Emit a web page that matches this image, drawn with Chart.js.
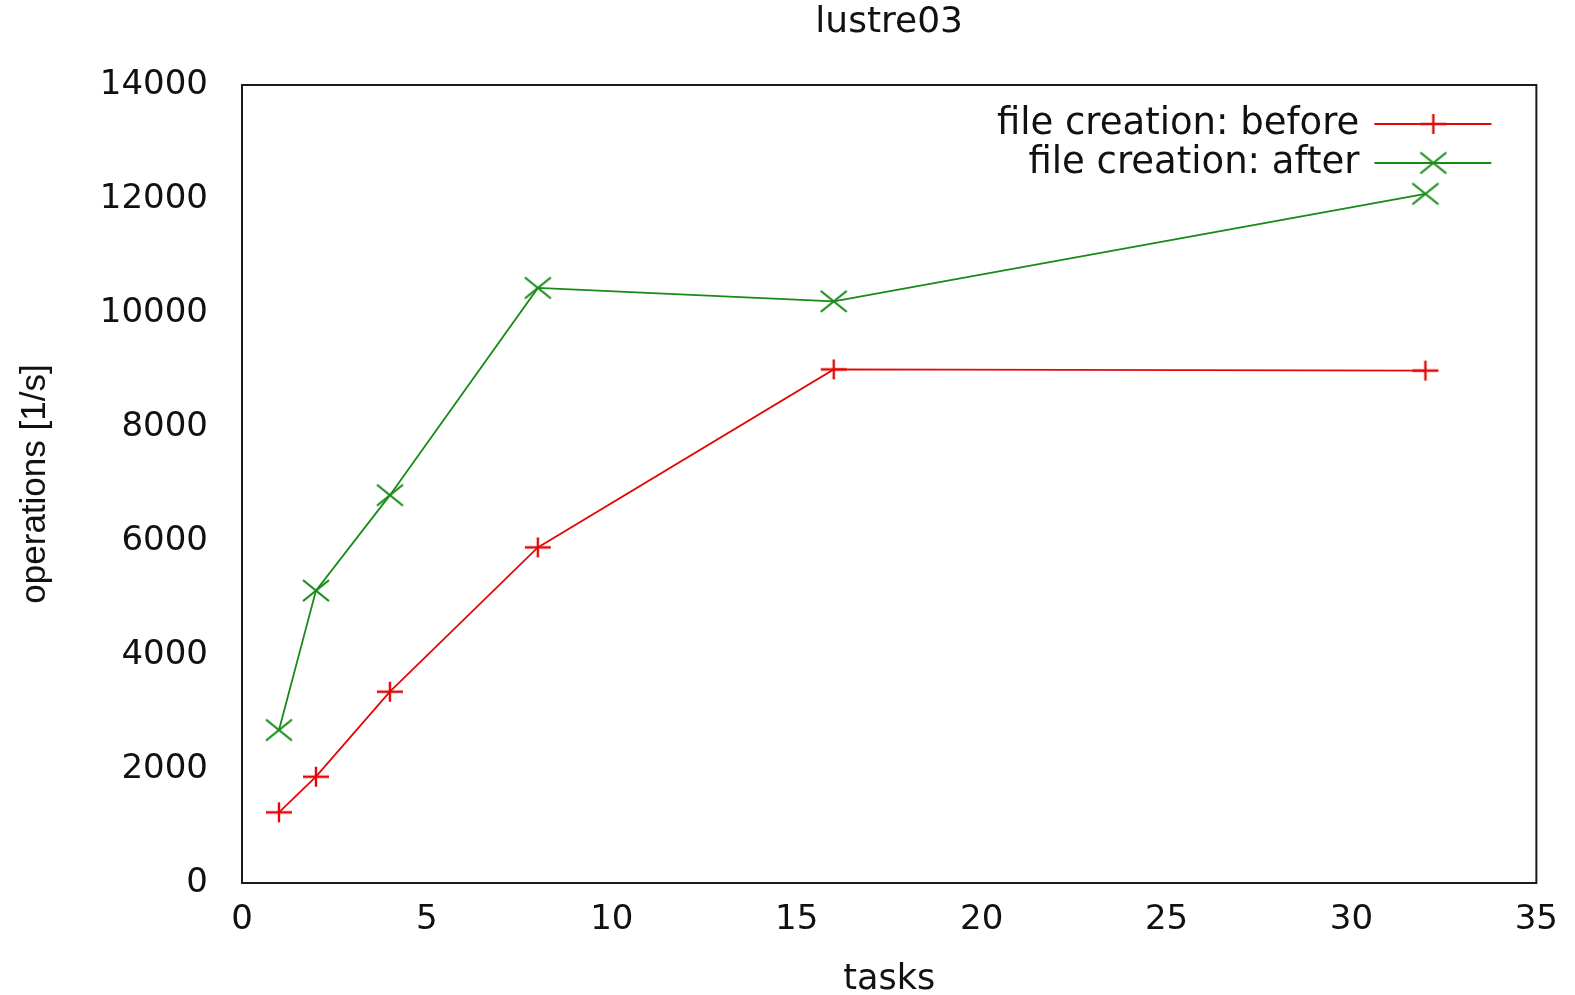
<!DOCTYPE html>
<html>
<head>
<meta charset="utf-8">
<script src="https://cdn.jsdelivr.net/npm/chart.js@4.4.1/dist/chart.umd.min.js"></script>
<style>
html,body{margin:0;padding:0;background:#ffffff;}
canvas{display:block;}
</style>
</head>
<body>
<canvas id="c" width="1575" height="995"></canvas>
<script>
// ---- data ----
const tasks = [1, 2, 4, 8, 16, 32];
const beforeOps = [1240, 1865, 3356, 5888, 9010, 8990];
const afterOps = [2684, 5130, 6804, 10440, 10205, 12090];
const seriesLabels = ['file creation: before', 'file creation: after'];
const chartTitle = 'lustre03';
const xTitle = 'tasks';
const yTitle = 'operations [1/s]';
const xTicks = [0, 5, 10, 15, 20, 25, 30, 35];
const yTicks = [0, 2000, 4000, 6000, 8000, 10000, 12000, 14000];

// ---- styling ----
const RED = '#e20808';
const GREEN = '#178a17';
const TEXT = '#111111';
const FONT = 'DejaVu Sans';

function makeMarker(kind, color, w, h, lw) {
  const c = document.createElement('canvas');
  c.width = w + 4; c.height = h + 4;
  const g = c.getContext('2d');
  g.strokeStyle = color; g.lineWidth = lw; g.lineCap = 'butt';
  const cx = c.width / 2, cy = c.height / 2;
  g.beginPath();
  if (kind === 'plus') {
    g.moveTo(cx - w / 2, cy); g.lineTo(cx + w / 2, cy);
    g.moveTo(cx, cy - h / 2); g.lineTo(cx, cy + h / 2);
  } else {
    g.moveTo(cx - w / 2, cy - h / 2); g.lineTo(cx + w / 2, cy + h / 2);
    g.moveTo(cx - w / 2, cy + h / 2); g.lineTo(cx + w / 2, cy - h / 2);
  }
  g.stroke();
  return c;
}
const plusMarker = makeMarker('plus', RED, 26, 20, 2.4);
const crossMarker = makeMarker('x', GREEN, 26, 21, 2.2);

const framePlugin = {
  id: 'frame',
  beforeDatasetsDraw(chart) {
    const {ctx, chartArea: a} = chart;
    ctx.save();
    ctx.strokeStyle = '#1a1a1a';
    ctx.lineWidth = 2;
    ctx.strokeRect(a.left, a.top, a.right - a.left, a.bottom - a.top);
    ctx.restore();
  }
};

const keyPlugin = {
  id: 'gpKey',
  afterDatasetsDraw(chart) {
    const {ctx, chartArea: a} = chart;
    chart.data.datasets.forEach((ds, i) => {
      const y = a.top + 39 + i * 39;
      ctx.save();
      ctx.font = '37px "' + FONT + '"';
      ctx.fillStyle = TEXT;
      ctx.textAlign = 'right';
      ctx.textBaseline = 'middle';
      ctx.fillText(ds.label, a.right - 177, y);
      ctx.strokeStyle = ds.borderColor;
      ctx.lineWidth = ds.borderWidth;
      ctx.beginPath();
      ctx.moveTo(a.right - 162, y);
      ctx.lineTo(a.right - 45, y);
      ctx.stroke();
      Chart.helpers.drawPoint(ctx, {pointStyle: ds.pointStyle, radius: 10, rotation: 0, borderWidth: 0}, a.right - 103, y);
      ctx.restore();
    });
  }
};

const ticksFrom = arr => (scale) => { scale.ticks = arr.map(v => ({value: v})); };
const plainLabel = v => String(v);

new Chart(document.getElementById('c'), {
  type: 'line',
  data: {
    datasets: [
      {
        label: seriesLabels[0],
        data: tasks.map((t, i) => ({x: t, y: beforeOps[i]})),
        borderColor: RED,
        backgroundColor: RED,
        borderWidth: 1.8,
        pointStyle: plusMarker,
        pointRadius: 10,
        tension: 0,
        fill: false
      },
      {
        label: seriesLabels[1],
        data: tasks.map((t, i) => ({x: t, y: afterOps[i]})),
        borderColor: GREEN,
        backgroundColor: GREEN,
        borderWidth: 1.8,
        pointStyle: crossMarker,
        pointRadius: 10,
        tension: 0,
        fill: false
      }
    ]
  },
  options: {
    responsive: false,
    animation: false,
    devicePixelRatio: 1,
    events: [],
    layout: {padding: {left: 0, right: 36, top: 0, bottom: 0}},
    plugins: {
      legend: {display: false},
      tooltip: {enabled: false},
      title: {
        display: true,
        text: chartTitle,
        fullSize: false,
        color: TEXT,
        font: {family: FONT, size: 36, weight: 'normal', lineHeight: '43px'},
        padding: {top: 1, bottom: 41}
      }
    },
    scales: {
      x: {
        type: 'linear',
        min: xTicks[0],
        max: xTicks[xTicks.length - 1],
        afterBuildTicks: ticksFrom(xTicks),
        grid: {display: false, drawTicks: false},
        border: {display: false},
        ticks: {color: TEXT, font: {family: FONT, size: 34}, padding: 17, maxRotation: 0, autoSkip: false, callback: plainLabel},
        title: {display: true, text: xTitle, color: TEXT, font: {family: FONT, size: 35, lineHeight: '31px'}, padding: {top: 0, bottom: 0}},
        afterFit: (s) => { s.height = 112; }
      },
      y: {
        type: 'linear',
        min: yTicks[0],
        max: yTicks[yTicks.length - 1],
        afterBuildTicks: ticksFrom(yTicks),
        grid: {display: false, drawTicks: false},
        border: {display: false},
        ticks: {color: TEXT, font: {family: FONT, size: 34}, padding: 34, autoSkip: false, callback: plainLabel},
        title: {display: true, text: yTitle, color: TEXT, font: {family: 'Liberation Sans', size: 35, lineHeight: 1.2}, padding: {top: 14, bottom: 0}},
        afterFit: (s) => { s.width = 242; }
      }
    }
  },
  plugins: [framePlugin, keyPlugin]
});
</script>
</body>
</html>
